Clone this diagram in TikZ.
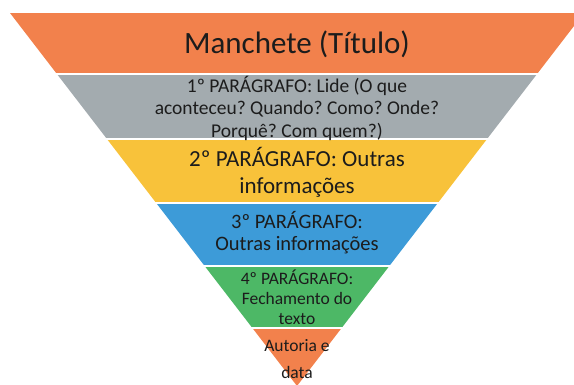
\documentclass[tikz,border=0pt]{standalone}
\usepackage{fontspec}
\setmainfont{Carlito}
\usepackage{tikz}
\definecolor{orangeband}{HTML}{F2814C}
\definecolor{grayband}{HTML}{A3ABAF}
\definecolor{yellowband}{HTML}{F8C23A}
\definecolor{blueband}{HTML}{3D9BD8}
\definecolor{greenband}{HTML}{4DB866}
\definecolor{txtgray}{HTML}{1C1C1C}
\frenchspacing

\begin{document}
\begin{tikzpicture}[x=1pt, y=-1pt, lbl/.style={align=center, text=txtgray, inner sep=0pt}]
	\useasboundingbox (0,0) rectangle (574,385);
	\def\Cx{297}
	\def\Top{13}
	\def\Tip{386}
	\def\Half{287}

	\begin{scope}
		\clip (\Cx-\Half,\Top) -- (\Cx+\Half,\Top) -- (\Cx,\Tip) -- cycle;
		\foreach \ya/\yb/\col in {13/73/orangeband, 75/138/grayband, 140/202/yellowband, 204/265/blueband, 267/327/greenband, 329/390/orangeband}
			\fill[\col] (0,\ya) rectangle (574,\yb);
	\end{scope}

	\node (titulo) [lbl, font=\fontsize{31}{36}\selectfont] at (\Cx,44) {Manchete (Título)};
	\node (par1) [lbl, font=\fontsize{19.5}{22.5}\selectfont] at (\Cx,108) {1º PARÁGRAFO: Lide (O que\\aconteceu? Quando? Como? Onde?\\Porquê? Com quem?)};
	\node (par2) [lbl, font=\fontsize{23}{27}\selectfont] at (\Cx,172) {2º PARÁGRAFO: Outras\\informações};
	\node (par3) [lbl, font=\fontsize{20.5}{22}\selectfont] at (\Cx,233) {3º PARÁGRAFO:\\Outras informações};
	\node (par4) [lbl, font=\fontsize{17.5}{20}\selectfont] at (\Cx,297) {4º PARÁGRAFO:\\Fechamento do\\texto};
	\node (autoria) [lbl, font=\fontsize{17.5}{27}\selectfont] at (\Cx,359) {Autoria e\\data};
\end{tikzpicture}
\end{document}
